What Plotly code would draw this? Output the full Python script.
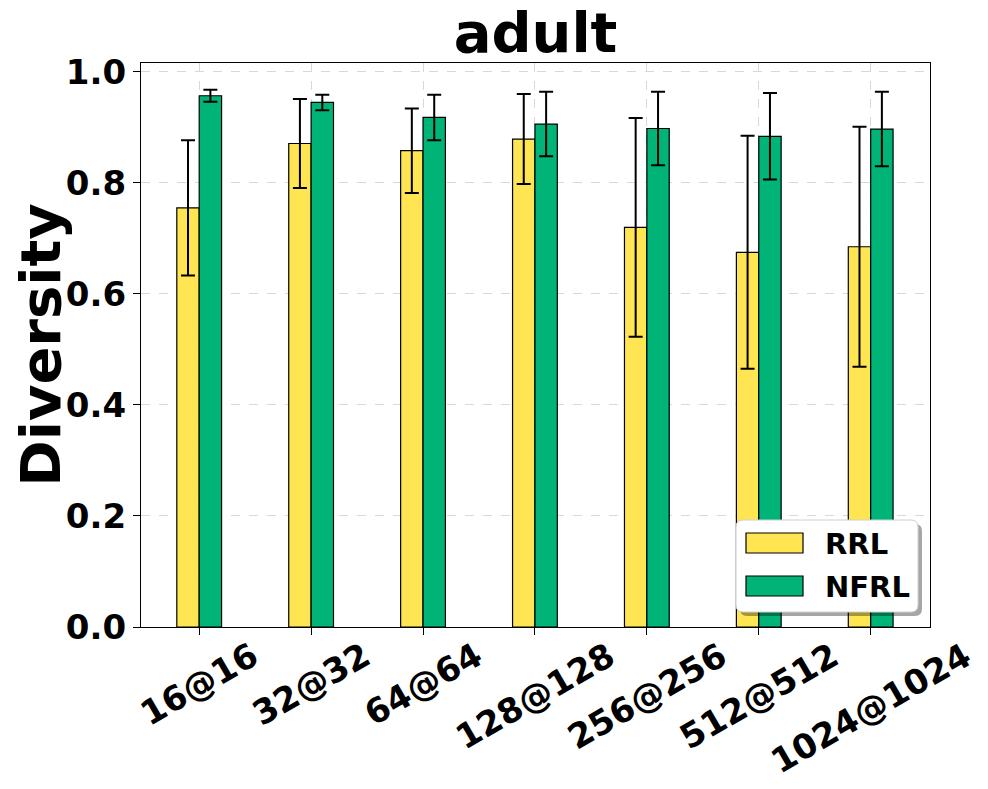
import plotly.graph_objects as go

# values
configs = ["16@16", "32@32", "64@64", "128@128", "256@256", "512@512", "1024@1024"]
rrl = [0.755, 0.871, 0.858, 0.879, 0.720, 0.675, 0.685]
rrl_err = [0.122, 0.080, 0.076, 0.081, 0.197, 0.210, 0.216]
nfrl = [0.957, 0.945, 0.918, 0.906, 0.898, 0.884, 0.897]
nfrl_err = [0.011, 0.014, 0.041, 0.058, 0.066, 0.078, 0.067]
series_names = ["RRL", "NFRL"]
yticks = [0.0, 0.2, 0.4, 0.6, 0.8, 1.0]

YELLOW = "#FFE552"
GREEN = "#00B377"
FONT = "DejaVu Sans"

# the page adds an 8px body margin, so positions below are in screen pixels
OFF = 8
W, H = 988, 789
L, R, T, B = 141 - OFF, 58 + OFF, 63 - OFF, 162 + OFF
PX0, PY1 = 141, 627          # plot left / bottom on screen
PW, PH = 930 - 141, 627 - 63


def px(x):
    return (x - PX0) / PW


def py(y):
    return (PY1 - y) / PH


def rounded(x0, y0, x1, y1, r=7):
    # rounded rectangle given in pixels, returned as a paper-coord path
    pts = "M{},{} L{},{} Q{},{} {},{} L{},{} Q{},{} {},{} L{},{} Q{},{} {},{} L{},{} Q{},{} {},{} Z"
    return pts.format(
        px(x0 + r), py(y0), px(x1 - r), py(y0), px(x1), py(y0), px(x1), py(y0 + r),
        px(x1), py(y1 - r), px(x1), py(y1), px(x1 - r), py(y1),
        px(x0 + r), py(y1), px(x0), py(y1), px(x0), py(y1 - r),
        px(x0), py(y0 + r), px(x0), py(y0), px(x0 + r), py(y0),
    )


fig = go.Figure()
for name, vals, errs, col in [("RRL", rrl, rrl_err, YELLOW), ("NFRL", nfrl, nfrl_err, GREEN)]:
    fig.add_trace(go.Bar(
        x=configs, y=vals, name=name,
        marker=dict(color=col, line=dict(color="black", width=1.2)),
        error_y=dict(type="data", array=errs, color="black", thickness=2, width=7),
    ))

axis_font = dict(family=FONT, size=34, color="black", weight="bold")

# x tick labels, rotated and centred under each tick like matplotlib does
annotations = []
for c in configs:
    annotations.append(dict(
        x=c, xref="x", y=0, yref="paper", text=c, showarrow=False,
        textangle=-30, xanchor="center", yanchor="top", yshift=-5,
        font=axis_font,
    ))

# hand-drawn legend with shadow and rounded box
shapes = [
    dict(type="path", xref="paper", yref="paper", path=rounded(740, 524, 922, 616),
         fillcolor="rgba(0,0,0,0.35)", line=dict(width=0), layer="above"),
    dict(type="path", xref="paper", yref="paper", path=rounded(736, 520, 918, 612),
         fillcolor="white", line=dict(color="#d0d0d0", width=1), layer="above"),
]
for i, col in enumerate([YELLOW, GREEN]):
    y0 = 533 + i * 43
    shapes.append(dict(type="rect", xref="paper", yref="paper",
                       x0=px(746), x1=px(803), y0=py(y0 + 20), y1=py(y0),
                       fillcolor=col, line=dict(color="black", width=1.2), layer="above"))
    annotations.append(dict(
        x=px(823), y=py(y0 + 11), xref="paper", yref="paper", text=series_names[i],
        showarrow=False, xanchor="left", yanchor="middle",
        font=dict(family=FONT, size=29, color="black", weight="bold"),
    ))

fig.update_layout(
    width=W, height=H,
    margin=dict(l=L, r=R, t=T, b=B),
    paper_bgcolor="white", plot_bgcolor="white",
    barmode="group", bargap=0.6, bargroupgap=0,
    showlegend=False,
    title=dict(text="adult", x=0.5, xref="paper", xanchor="center",
               y=1, yref="paper", yanchor="bottom", pad=dict(b=11),
               font=dict(family=FONT, size=56, color="black", weight="bold")),
    xaxis=dict(
        range=[-0.52, 6.53], showticklabels=False,
        ticks="outside", ticklen=7, tickcolor="black",
        showline=True, linecolor="black", linewidth=1.2, mirror=True,
        showgrid=True, gridcolor="#d8d8d8", griddash="dash", gridwidth=1,
    ),
    yaxis=dict(
        range=[0, 1.016], tickvals=yticks, tickformat=".1f",
        ticks="outside", ticklen=7, tickcolor="black",
        tickfont=axis_font,
        showline=True, linecolor="black", linewidth=1.2, mirror=True,
        showgrid=True, gridcolor="#d8d8d8", griddash="dash", gridwidth=1,
        zeroline=False,
        title=dict(text="Diversity", standoff=8,
                   font=dict(family=FONT, size=56, color="black", weight="bold")),
    ),
    annotations=annotations,
    shapes=shapes,
)

fig.write_html("out.html")
